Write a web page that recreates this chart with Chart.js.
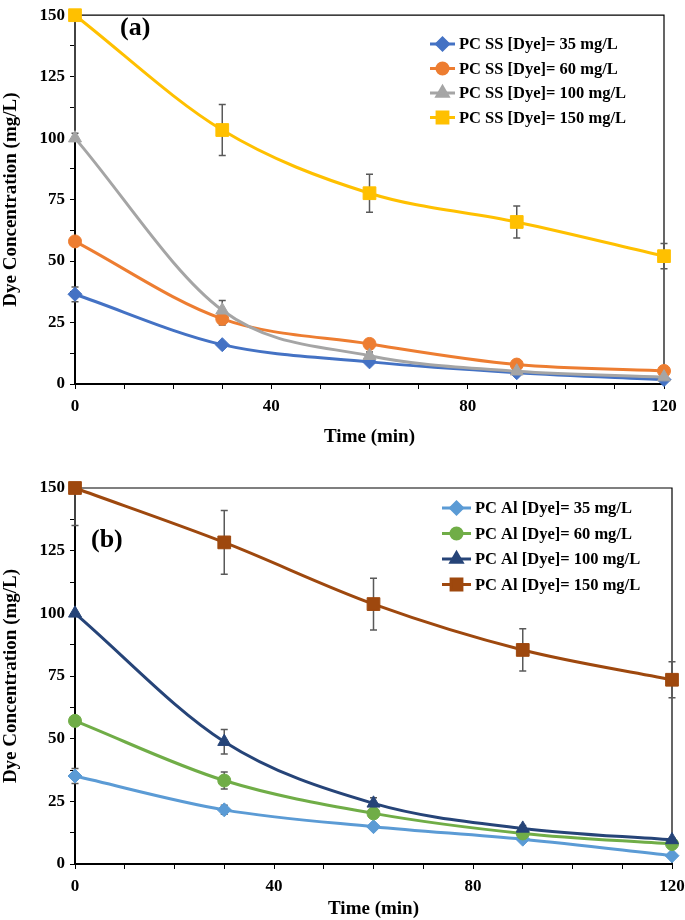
<!DOCTYPE html>
<html lang="en">
<head>
<meta charset="UTF-8">
<title>Dye Concentration vs Time</title>
<script src="https://cdn.jsdelivr.net/npm/chart.js"></script>
<style>
  body { margin: 0; background: #fff; }
  canvas { position: absolute; left: 0; }
  #chartA { top: 0; }
  #chartB { top: 450px; }
</style>
</head>
<body>
<canvas id="chartA" width="685" height="450"></canvas>
<canvas id="chartB" width="685" height="470"></canvas>
<script>
// sampling times (min)
const times = [0, 30, 60, 90, 120];

// (a) PC SS
const ssLabels = ["PC SS [Dye]= 35 mg/L", "PC SS [Dye]= 60 mg/L", "PC SS [Dye]= 100 mg/L", "PC SS [Dye]= 150 mg/L"];
const ss35 = [36.5, 16.0, 9.0, 4.6, 1.8];
const ss60 = [58.0, 26.5, 16.3, 7.9, 5.3];
const ss100 = [100, 30.0, 11.5, 5.2, 2.8];
const ss150 = [150, 103.3, 77.6, 65.9, 52.0];
const ss35Err = [3, 1, 0.8, 0.5, 0.5];
const ss60Err = [1, 2.5, 1, 0.8, 0.5];
const ss100Err = [0, 4, 1.5, 0.8, 0.5];
const ss150Err = [48, 10.4, 7.7, 6.5, 5.1];

// (b) PC Al
const alLabels = ["PC Al [Dye]= 35 mg/L", "PC Al [Dye]= 60 mg/L", "PC Al [Dye]= 100 mg/L", "PC Al [Dye]= 150 mg/L"];
const al35 = [35.1, 21.6, 14.9, 9.9, 3.3];
const al60 = [57.1, 33.3, 20.2, 12.2, 8.0];
const al100 = [100, 48.8, 24.2, 14.2, 9.6];
const al150 = [150, 128.3, 103.7, 85.4, 73.5];
const al35Err = [3, 1.8, 1, 0.8, 0.5];
const al60Err = [1, 3.4, 1.2, 1, 0.8];
const al100Err = [0, 4.9, 2.2, 1.2, 0.8];
const al150Err = [15, 12.7, 10.3, 8.4, 7.2];

const serif = "'Liberation Serif', 'Times New Roman', serif";
Chart.defaults.font.family = serif;
Chart.defaults.font.weight = "bold";
Chart.defaults.color = "#000";

const markers = [
  { pointStyle: "rectRot", radius: 7 },
  { pointStyle: "circle", radius: 6.5 },
  { pointStyle: "triangle", radius: 7.5 },
  { pointStyle: "rect", radius: 9 }
];

// top + right frame lines of the plot area
const framePlugin = {
  id: "frame",
  beforeDatasetsDraw(chart) {
    const { ctx, chartArea: a } = chart;
    ctx.save();
    ctx.strokeStyle = "#000";
    ctx.lineWidth = 1.2;
    ctx.beginPath();
    ctx.moveTo(a.left, a.top);
    ctx.lineTo(a.right, a.top);
    ctx.lineTo(a.right, a.bottom);
    ctx.stroke();
    ctx.restore();
  }
};

const errorBarPlugin = {
  id: "errorBars",
  beforeDatasetsDraw(chart) {
    const { ctx, chartArea: a, scales } = chart;
    ctx.save();
    ctx.beginPath();
    ctx.rect(a.left - 8, a.top, a.right - a.left + 16, a.bottom - a.top);
    ctx.clip();
    ctx.strokeStyle = "#595959";
    ctx.lineWidth = 1.5;
    chart.data.datasets.forEach(ds => {
      if (!ds.errors) return;
      ds.data.forEach((p, i) => {
        const e = ds.errors[i];
        if (!e) return;
        const x = scales.x.getPixelForValue(p.x);
        const y1 = scales.y.getPixelForValue(p.y + e);
        const y2 = scales.y.getPixelForValue(p.y - e);
        ctx.beginPath();
        ctx.moveTo(x, y1); ctx.lineTo(x, y2);
        ctx.moveTo(x - 3.5, y1); ctx.lineTo(x + 3.5, y1);
        ctx.moveTo(x - 3.5, y2); ctx.lineTo(x + 3.5, y2);
        ctx.stroke();
      });
    });
    ctx.restore();
  }
};

// Excel-style legend: line with the marker on it
const lineLegendPlugin = {
  id: "lineLegend",
  afterDraw(chart, args, opts) {
    const ctx = chart.ctx;
    ctx.save();
    ctx.font = "bold 16.5px " + serif;
    ctx.textBaseline = "middle";
    chart.data.datasets.forEach((ds, i) => {
      const y = opts.y + i * opts.gap;
      ctx.strokeStyle = ds.borderColor;
      ctx.lineWidth = 3;
      ctx.beginPath();
      ctx.moveTo(opts.x, y);
      ctx.lineTo(opts.x + opts.lineLen, y);
      ctx.stroke();
      ctx.fillStyle = ds.backgroundColor;
      ctx.strokeStyle = ds.borderColor;
      Chart.helpers.drawPoint(ctx, { pointStyle: ds.pointStyle, radius: ds.pointRadius * 0.85, rotation: 0, borderWidth: 1 },
        opts.x + opts.lineLen / 2, y);
      ctx.fillStyle = "#000";
      ctx.fillText(ds.label, opts.x + opts.lineLen + 4, y + 1);
    });
    ctx.restore();
  }
};

const panelLabelPlugin = {
  id: "panelLabel",
  afterDraw(chart, args, opts) {
    const ctx = chart.ctx;
    ctx.save();
    ctx.font = "bold 26px " + serif;
    ctx.fillStyle = "#000";
    ctx.textBaseline = "middle";
    ctx.fillText(opts.text, opts.x, opts.y);
    ctx.restore();
  }
};

function buildDatasets(labels, series, errors, colors) {
  return series.map((vals, i) => ({
    label: labels[i],
    data: vals.map((v, j) => ({ x: times[j], y: v })),
    errors: errors[i],
    borderColor: colors[i],
    backgroundColor: colors[i],
    borderWidth: 3,
    cubicInterpolationMode: "monotone",
    clip: false,
    pointStyle: markers[i].pointStyle,
    pointRadius: markers[i].radius,
    pointBorderWidth: 1,
    order: series.length - i
  }));
}

function makeChart(id, datasets, o) {
  return new Chart(document.getElementById(id), {
    type: "line",
    data: { datasets },
    plugins: [framePlugin, errorBarPlugin, lineLegendPlugin, panelLabelPlugin],
    options: {
      responsive: false,
      animation: false,
      layout: { padding: { top: o.padTop, right: o.padRight, left: 0, bottom: 0 } },
      plugins: {
        legend: { display: false },
        tooltip: { enabled: false },
        lineLegend: o.legend,
        panelLabel: o.panel
      },
      scales: {
        x: {
          type: "linear",
          min: 0, max: 120,
          afterFit: s => { s.height = o.xHeight; s.paddingLeft = 0; s.paddingRight = 0; },
          grid: { drawOnChartArea: false, color: "#000", tickLength: 5 },
          border: { color: "#000", width: 2 },
          ticks: {
            stepSize: 10,
            autoSkip: false,
            maxRotation: 0,
            padding: 7,
            font: { size: 17, weight: "bold" },
            callback: v => (v % 40 === 0 ? v : "")
          },
          title: {
            display: true,
            text: "Time (min)",
            font: { size: 19, weight: "bold" },
            padding: { top: 0, bottom: o.xTitlePad }
          }
        },
        y: {
          min: 0, max: 150,
          afterFit: s => { s.width = 75; },
          grid: { drawOnChartArea: false, color: "#000", tickLength: 5 },
          border: { color: "#000", width: 2 },
          ticks: {
            stepSize: 12.5,
            autoSkip: false,
            padding: 5,
            font: { size: 17, weight: "bold" },
            callback: v => (v % 25 === 0 ? v : "")
          },
          title: {
            display: true,
            text: "Dye Concentration (mg/L)",
            font: { size: 19, weight: "bold" },
            padding: { top: 0, bottom: 0 }
          }
        }
      }
    }
  });
}

makeChart("chartA",
  buildDatasets(ssLabels, [ss35, ss60, ss100, ss150], [ss35Err, ss60Err, ss100Err, ss150Err],
    ["#4472C4", "#ED7D31", "#A5A5A5", "#FFC000"]),
  {
    padTop: 11, padRight: 21, xHeight: 66, xTitlePad: 2,
    legend: { x: 430, y: 44, gap: 24.5, lineLen: 25 },
    panel: { text: "(a)", x: 120, y: 28 }
  });

makeChart("chartB",
  buildDatasets(alLabels, [al35, al60, al100, al150], [al35Err, al60Err, al100Err, al150Err],
    ["#5B9BD5", "#70AD47", "#264478", "#9E480E"]),
  {
    padTop: 38, padRight: 13, xHeight: 56, xTitlePad: 0,
    legend: { x: 442, y: 58, gap: 25.5, lineLen: 29 },
    panel: { text: "(b)", x: 91, y: 90 }
  });
</script>
</body>
</html>
